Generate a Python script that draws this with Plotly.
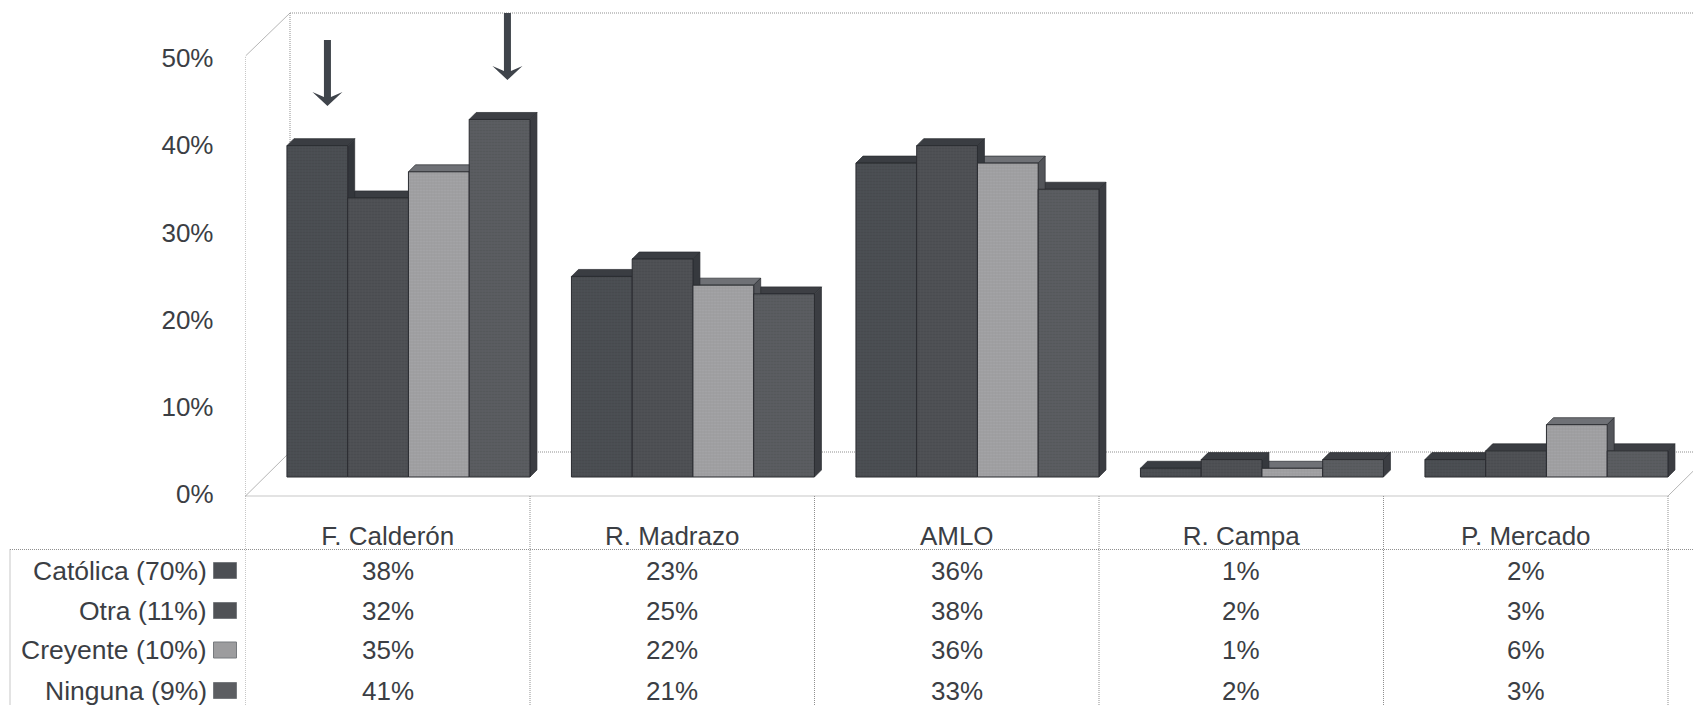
import plotly.graph_objects as go

categories = ["F. Calderón", "R. Madrazo", "AMLO", "R. Campa", "P. Mercado"]
series_names = ["Católica (70%)", "Otra (11%)", "Creyente (10%)", "Ninguna (9%)"]
catolica = [38, 23, 36, 1, 2]
otra = [32, 25, 38, 2, 3]
creyente = [35, 22, 36, 1, 6]
ninguna = [41, 21, 33, 2, 3]
series_values = [catolica, otra, creyente, ninguna]
y_ticks = [0, 10, 20, 30, 40, 50]

front_colors = ["#4c4f54", "#505256", "#9c9c9e", "#5c5e62"]
pattern_colors = ["#3c3f44", "#404246", "#b0b0b2", "#484a4e"]
top_colors = ["#3a3d42", "#3a3d42", "#6f7176", "#3d3f44"]
side_colors = ["#33363b", "#36393e", "#53555a", "#3b3d42"]
edge = "#2a2c30"
text_color = "#3b3e44"
grid_color = "#8f8f8f"
FONT = "Liberation Sans"
W, H = 1693, 705

# pixel scales of the two axes
PX_X = 284.5
PX_Y = 8.72
LEFT = 245.5
ZERO_Y = 496.0


def px_to_v(py):
    return (ZERO_Y - py) / PX_Y


def paper_x(px):
    return px / W


def paper_y(py):
    return 1 - py / H


x_range = [-0.5, -0.5 + (W - LEFT) / PX_X]
y_range = [px_to_v(H), px_to_v(0)]

wall_dx, wall_dv = 44.5 / PX_X, 44 / PX_Y
bar_shift, bar_base = 20.7 / PX_X, 19 / PX_Y
depth_dx, depth_dv = 7 / PX_X, 7 / PX_Y
group_width = 243 / PX_X
bar_width = group_width / len(series_values)

shapes = []


def line(x0, y0, x1, y1, xref="x", yref="y", dash="1px,1px", color=grid_color, width=1):
    shapes.append(dict(type="line", x0=x0, y0=y0, x1=x1, y1=y1, xref=xref, yref=yref,
                       layer="below", line=dict(color=color, width=width, dash=dash)))


wall_front_top = px_to_v(56)
top_wall = px_to_v(13)
xl, xr = x_range
# walls and floor
line(xl, 0, xl, wall_front_top)
line(xl, 0, xl + wall_dx, wall_dv, dash="solid", color="#b5b5b5")
line(xl, wall_front_top, xl + wall_dx, top_wall, dash="solid", color="#b5b5b5")
line(xl + wall_dx, wall_dv, xl + wall_dx, top_wall)
line(xl + wall_dx, top_wall, xr, top_wall)
line(xl + wall_dx, wall_dv, xr, wall_dv)
n = len(categories)
line(n - 0.5, 0, xr, (xr - n + 0.5) / wall_dx * wall_dv, dash="solid", color="#b5b5b5")

# data table grid
table_head = px_to_v(549.5)
line(xl, 0, n - 0.5, 0)
line(paper_x(10), table_head, n - 0.5, table_head, xref="paper")
line(paper_x(10), table_head, paper_x(10), y_range[0], xref="paper")
for i in range(n + 1):
    line(i - 0.5, 0, i - 0.5, y_range[0])


def poly(points, fill):
    path = "M " + " L ".join(f"{a},{b}" for a, b in points) + " Z"
    shapes.append(dict(type="path", path=path, xref="x", yref="y", layer="below",
                       fillcolor=fill, line=dict(color=edge, width=0.7)))


# extruded faces of the bars, computed from the values; the fronts are the bar traces
for c in range(n):
    g0 = c + bar_shift - group_width / 2
    for s, vals in enumerate(series_values):
        a = g0 + s * bar_width
        b = a + bar_width
        t = bar_base + vals[c]
        poly([(a, t), (a + depth_dx, t + depth_dv), (b + depth_dx, t + depth_dv), (b, t)], top_colors[s])
    for s, vals in enumerate(series_values):
        b = g0 + (s + 1) * bar_width
        t = bar_base + vals[c]
        poly([(b, bar_base), (b + depth_dx, bar_base + depth_dv), (b + depth_dx, t + depth_dv), (b, t)], side_colors[s])

fig = go.Figure()
for s, vals in enumerate(series_values):
    fig.add_trace(go.Bar(
        name=series_names[s],
        x=[i + bar_shift for i in range(n)],
        y=vals,
        base=[bar_base] * n,
        marker=dict(color=front_colors[s], line=dict(color=edge, width=1),
                    pattern=dict(shape=".", size=3, solidity=0.35,
                                 fgcolor=pattern_colors[s], bgcolor=front_colors[s])),
    ))

# arrows above Católica and Ninguna
arrows = [(-0.212, px_to_v(106), 66), (0.4207, px_to_v(80), 67)]
for ax, ay, length in arrows:
    shapes.append(dict(
        type="path", xref="x", yref="y", layer="above",
        xsizemode="pixel", ysizemode="pixel", xanchor=ax, yanchor=ay,
        path=f"M 0,0 L -15,14 L -3.5,9 L -3.5,{length} L 3.5,{length} L 3.5,9 L 15,14 Z",
        fillcolor="#3f444b", line=dict(width=0),
    ))

annotations = []
row_y = [570.5, 610.5, 650, 690.5]
for s, name in enumerate(series_names):
    annotations.append(dict(xref="paper", yref="paper", x=paper_x(209), y=paper_y(row_y[s]),
                            text=name, showarrow=False, xanchor="right", yanchor="middle",
                            font=dict(family=FONT, size=26.5, color=text_color)))
    shapes.append(dict(type="rect", xref="paper", yref="paper", layer="above",
                       x0=paper_x(213.5), x1=paper_x(236.5),
                       y0=paper_y(row_y[s] - 8), y1=paper_y(row_y[s] + 8),
                       fillcolor=front_colors[s], line=dict(color="#777a7e", width=1)))
    for c in range(n):
        annotations.append(dict(xref="x", yref="paper", x=c, y=paper_y(row_y[s]),
                                text=f"{series_values[s][c]}%", showarrow=False,
                                xanchor="center", yanchor="middle",
                                font=dict(family=FONT, size=26, color=text_color)))

fig.update_layout(
    width=W, height=H, autosize=False,
    margin=dict(l=0, r=0, t=0, b=0),
    paper_bgcolor="white", plot_bgcolor="white",
    showlegend=False,
    barmode="group", bargap=1 - group_width, bargroupgap=0,
    shapes=shapes, annotations=annotations,
    xaxis=dict(range=x_range, domain=[LEFT / W, 1], anchor="free", position=paper_y(ZERO_Y),
               tickmode="array", tickvals=list(range(n)), ticktext=categories,
               showgrid=False, zeroline=False, showline=False, ticks="",
               ticklabelstandoff=22,
               tickfont=dict(family=FONT, size=26, color=text_color)),
    yaxis=dict(range=y_range, domain=[0, 1], tickmode="array", tickvals=y_ticks,
               ticktext=[f"{v}%" for v in y_ticks],
               showgrid=False, zeroline=False, showline=False, ticks="",
               ticklabelstandoff=31, ticklabelshift=-2,
               tickfont=dict(family=FONT, size=26, color=text_color)),
)

fig.write_html("out.html", config={"displayModeBar": False},
               post_script="document.body.style.margin='0';document.body.style.overflow='hidden';")
